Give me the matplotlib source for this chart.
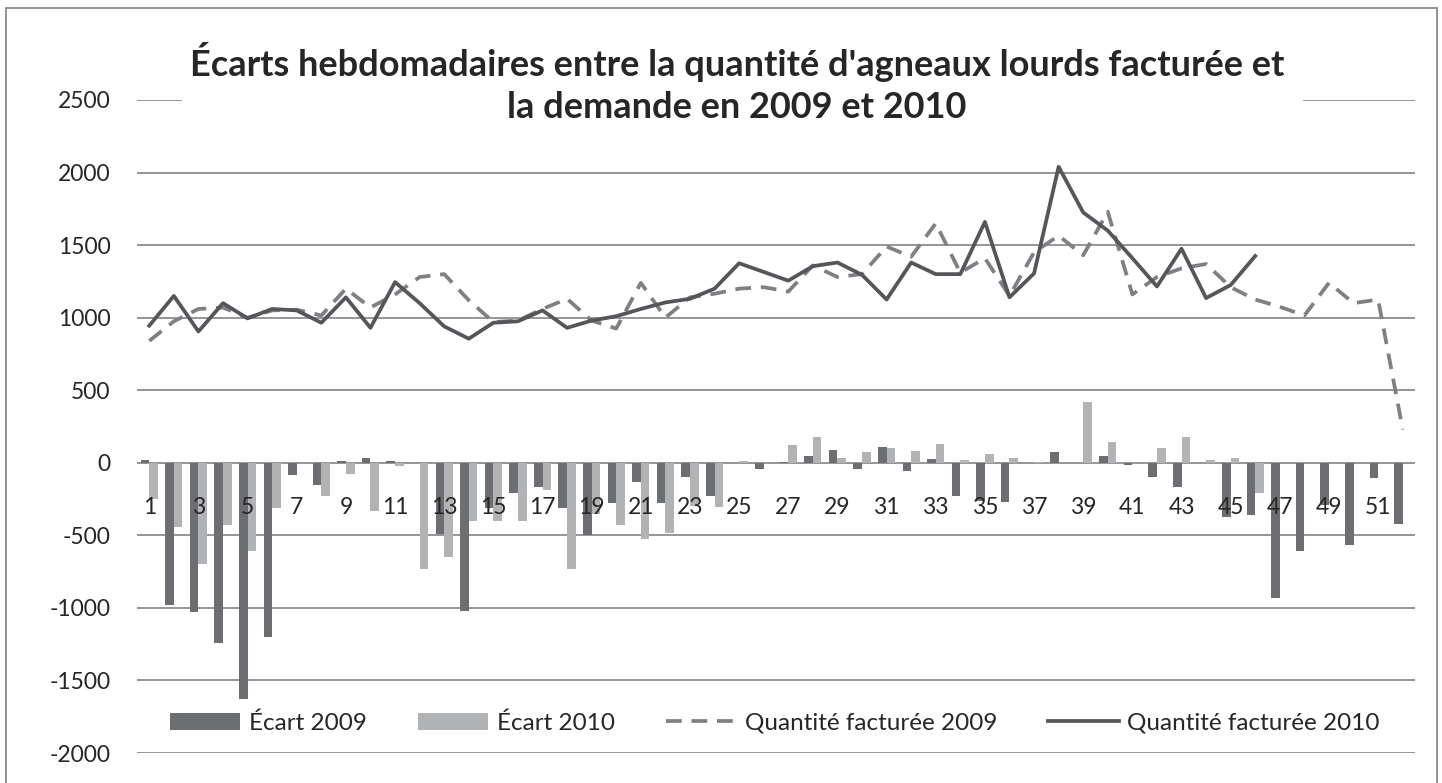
import numpy as np
import matplotlib
matplotlib.use("Agg")
import matplotlib.pyplot as plt
from matplotlib.patches import Rectangle

# weekly data
weeks = np.arange(1, 53)

ecart_2009 = [20, -980, -1030, -1240, -1625, -1200, -85, -150, 15, 35,
              10, 0, -490, -1020, -310, -205, -170, -310, -500, -280,
              -135, -280, -95, -230, 0, -45, 5, 45, 85, -45,
              110, -55, 25, -230, -260, -270, 0, 75, 0, 45,
              -15, -95, -165, 0, -375, -360, -935, -605, -290, -565,
              -105, -420]

ecart_2010 = [-250, -440, -700, -430, -610, -310, 0, -230, -75, -330,
              -25, -730, -650, -400, -400, -400, -185, -730, -350, -430,
              -525, -485, -300, -305, 10, 0, 120, 175, 35, 75,
              105, 80, 130, 20, 60, 30, 3, 0, 420, 145,
              0, 105, 175, 20, 30, -210]

qf_2009 = [840, 975, 1060, 1070, 1000, 1050, 1055, 1015, 1200, 1070,
           1160, 1280, 1300, 1120, 970, 980, 1060, 1130, 980, 925,
           1240, 1000, 1140, 1165, 1200, 1210, 1180, 1360, 1280, 1300,
           1490, 1420, 1650, 1310, 1410, 1150, 1450, 1565, 1430, 1730,
           1160, 1280, 1340, 1370, 1210, 1125, 1075, 1015, 1240, 1100,
           1125, 230]

qf_2010 = [945, 1150, 905, 1100, 995, 1060, 1050, 965, 1140, 930,
           1245, 1100, 940, 855, 965, 975, 1050, 930, 980, 1010,
           1060, 1105, 1130, 1200, 1375, 1315, 1255, 1355, 1380, 1295,
           1125, 1380, 1300, 1300, 1660, 1140, 1305, 2040, 1725, 1600,
           1410, 1215, 1475, 1135, 1225, 1425]

y_ticks = [-2000, -1500, -1000, -500, 0, 500, 1000, 1500, 2000, 2500]
x_ticks = list(range(1, 53, 2))

title = ("Écarts hebdomadaires entre la quantité d'agneaux lourds facturée et\n"
         "la demande en 2009 et 2010")

DARK = "#6d6e71"
LIGHT = "#b2b3b5"
LINE_DARK = "#555659"
LINE_DASH = "#7f8083"
GRID = "#8d8d8d"
TXT = "#262626"

plt.rcParams["font.family"] = ["Lato", "DejaVu Sans"]
plt.rcParams["axes.unicode_minus"] = False

W, H = 1442, 783
fig = plt.figure(figsize=(W / 100, H / 100), dpi=100)
ax = fig.add_axes([137 / W, (H - 753) / H, (1415 - 137) / W, (753 - 100) / H])

bw = 0.35
b09 = ax.bar(weeks - bw / 2, ecart_2009, width=bw, color=DARK, zorder=2)
w10 = weeks[:len(ecart_2010)]
b10 = ax.bar(w10 + bw / 2, ecart_2010, width=bw, color=LIGHT, zorder=2)
l09, = ax.plot(weeks, qf_2009, color=LINE_DASH, lw=2.7, ls=(0, (4.2, 2.6)), zorder=3)
l10, = ax.plot(weeks[:len(qf_2010)], qf_2010, color=LINE_DARK, lw=2.7, zorder=4)

ax.set_xlim(0.5, 52.5)
ax.set_ylim(-2000, 2500)
ax.set_yticks(y_ticks)
ax.set_xticks([])
ax.yaxis.grid(True, color=GRID, lw=1.3)
ax.set_axisbelow(True)
for s in ax.spines.values():
    s.set_visible(False)
ax.tick_params(axis="y", length=0, pad=19, labelsize=16.5, labelcolor=TXT)

# category labels sit just under the zero line, on top of the bars
for k in x_ticks:
    ax.annotate(str(k), xy=(k, 0), xytext=(0, -25), textcoords="offset points",
                ha="center", va="top", fontsize=16.5, color=TXT, zorder=6,
                annotation_clip=False)

ax.legend([b09, b10, l09, l10],
          ["Écart 2009", "Écart 2010", "Quantité facturée 2009", "Quantité facturée 2010"],
          loc="center", bbox_to_anchor=(0.499, 0.046), ncol=4, frameon=False,
          fontsize=17.5, handlelength=2.9, handleheight=0.7, columnspacing=2.1,
          handletextpad=0.35, labelcolor=TXT)

# chart border and title box hiding the top gridline
fig.add_artist(Rectangle((6 / W, -0.05), (1437 - 6) / W, (H - 8) / H + 0.05,
                         transform=fig.transFigure, fill=False, ec="#8a8a8a", lw=1.3))
fig.add_artist(Rectangle((182 / W, (H - 135) / H), (1303 - 182) / W, 95 / H,
                         transform=fig.transFigure, fc="white", ec="none", zorder=5))
fig.text(737 / W, (H - 83) / H, title, ha="center", va="center", fontsize=26,
         fontweight="bold", color=TXT, linespacing=1.3, zorder=6)

fig.savefig("out.png", dpi=100)
